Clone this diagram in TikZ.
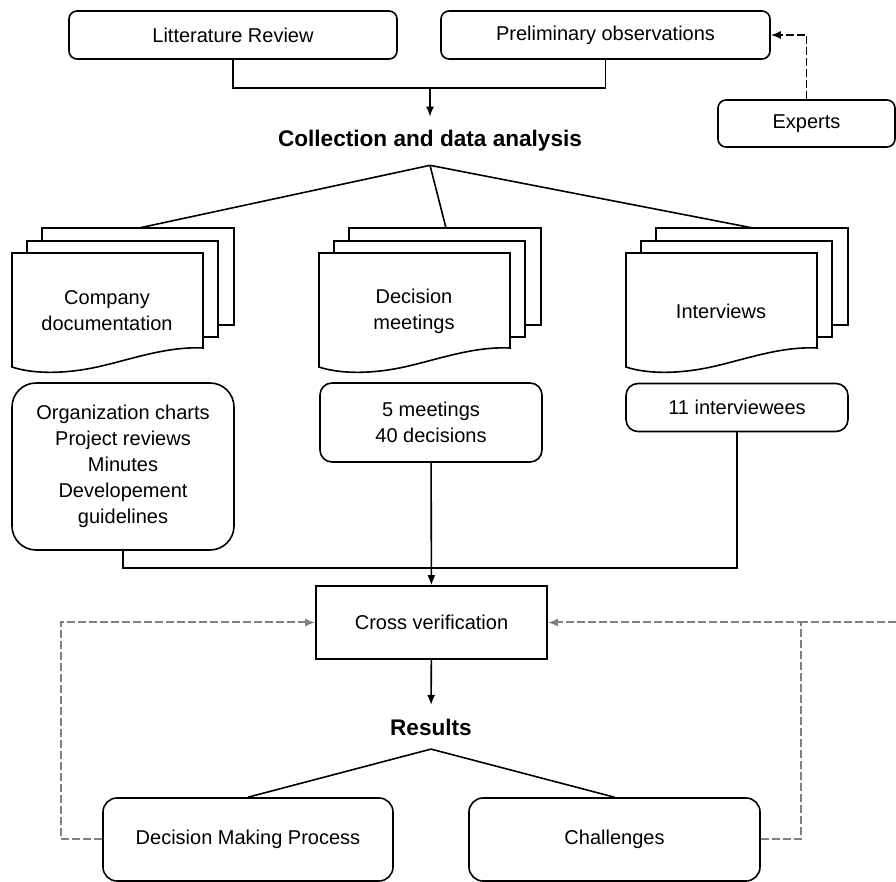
\documentclass[tikz,border=0pt]{standalone}
\usepackage{fontspec}
\setmainfont{Liberation Sans}
\usetikzlibrary{arrows.meta}
\newcommand{\docstack}[3]{%
  \begin{scope}[shift={(#2)}]
    \draw [fill=white] (30,-25) rectangle (222,72);
    \draw [fill=white] (15,-12) rectangle (206,84);
    \draw [fill=white] (0,0) -- (191,0) -- (191,95) .. controls (150,93) and (110,110) .. (75,116) .. controls (40,122) and (15,119) .. (0,114) -- cycle;
    \coordinate (#1T) at (127,-25);
    \node [align=center] (#1) at (95,58) {#3};
  \end{scope}}

\begin{document}
\begin{tikzpicture}[x=0.5pt, y=-0.5pt, >={Latex[length=5pt,width=4pt]}, line width=0.8pt,
    font=\fontsize{10}{13}\selectfont,
    box/.style={draw, rounded corners=4pt, minimum height=24pt},
    head/.style={font=\bfseries\fontsize{11.3}{13}\selectfont, inner sep=6.5pt},
    fb/.style={black!50, line width=1pt, dash pattern=on 4pt off 1.5pt, ->}]
        \useasboundingbox (0,0) rectangle (896,882);
        \node [box, minimum width=164pt] (LR) at (233,35) {Litterature Review};
        \node [box, minimum width=164.5pt] (PO) at (605.5,35) {Preliminary observations};
        \node [box, minimum width=88.5pt, minimum height=23.5pt] (EX) at (806.5,123.5) {Experts};
        \node [head] (CDA) at (430,141) {Collection and data analysis};
        \docstack{CD}{12,253}{Company\\documentation}
        \docstack{DM}{319,253}{Decision\\meetings}
        \docstack{IV}{626,253}{Interviews}
        \node [box, rounded corners=12pt, minimum width=111pt, minimum height=83.5pt, align=center] (OC) at (123,466.5) {Organization charts\\Project reviews\\Minutes\\Developement\\guidelines};
        \node [box, rounded corners=6pt, minimum width=111pt, minimum height=39.5pt, align=center] (MT) at (431,422.5) {5 meetings\\40 decisions};
        \node [box, rounded corners=6pt, minimum width=111pt] (IW) at (737,407.5) {11 interviewees};
        \node [draw, minimum width=115.5pt, minimum height=36.5pt] (CV) at (431.5,622.5) {Cross verification};
        \node [head] (RS) at (431,727) {Results};
        \node [box, rounded corners=7pt, minimum width=145pt, minimum height=41.5pt] (DMP) at (248,839.5) {Decision Making Process};
        \node [box, rounded corners=7pt, minimum width=145.5pt, minimum height=41.5pt] (CH) at (614.5,839.5) {Challenges};
        \coordinate (J1) at (430,87);
        \coordinate (J2) at (431,568);
        \coordinate (RE) at (896,622.5);
        \draw (LR.south) -- ++(0,28) -| (PO.south);
        \draw [->] (J1) -- (CDA);
        \draw [dash pattern=on 4pt off 1.5pt, ->] (EX.north) |- (PO.east);
        \draw (CDA.south) -- (CDT);
        \draw (CDA.south) -- (DMT);
        \draw (CDA.south) -- (IVT);
        \draw (OC.south) |- (J2);
        \draw (IW.south) |- (J2);
        \draw [->] (MT) -- (CV);
        \draw [->] (CV) -- (RS);
        \draw (RS.south) -- (DMP.north);
        \draw (RS.south) -- (CH.north);
        \draw [fb] (DMP.west) -- ++(-41,0) |- (CV.west);
        \draw [fb] (CH.east) -- ++(40,0) |- (CV.east);
        \draw [fb, -] (RE) -- ++(-96,0);
\end{tikzpicture}
\end{document}
